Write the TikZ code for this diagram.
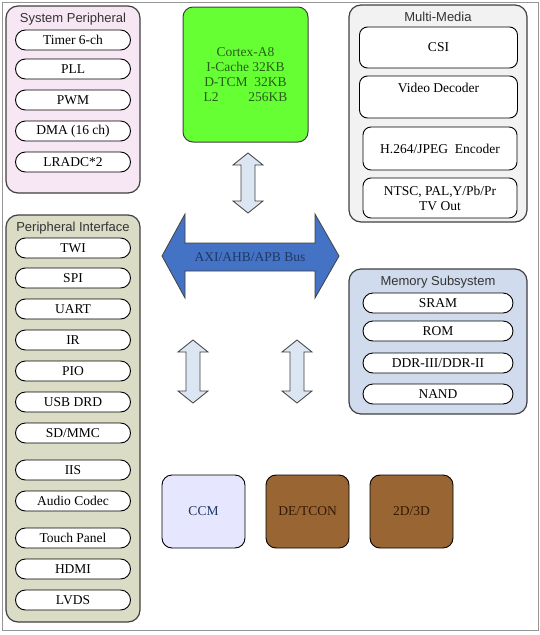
\documentclass[tikz,border=0pt]{standalone}
\usepackage{fontspec}
\setmainfont{Liberation Serif}
\newfontfamily\titlefont{Liberation Sans}
\usetikzlibrary{positioning}
\definecolor{darkline}{RGB}{64,64,64}
\definecolor{framegray}{RGB}{150,150,150}
\definecolor{sysfill}{RGB}{247,230,244}
\definecolor{perifill}{RGB}{218,220,198}
\definecolor{mmfill}{RGB}{242,242,242}
\definecolor{memfill}{RGB}{208,220,238}
\definecolor{cortexfill}{RGB}{102,255,51}
\definecolor{cortextext}{RGB}{40,95,25}
\definecolor{busfill}{RGB}{68,114,196}
\definecolor{bustext}{RGB}{31,56,100}
\definecolor{arrowfill}{RGB}{220,230,242}
\definecolor{ccmfill}{RGB}{230,230,255}
\definecolor{brownfill}{RGB}{153,102,51}
\definecolor{browntext}{RGB}{50,25,5}

\begin{document}
\begin{tikzpicture}[x=1pt, y=-1pt, font=\fontsize{13.5}{15}\selectfont,
  group/.style={draw=darkline, line width=1.2pt, rounded corners=12pt, inner sep=0pt},
  grouptitle/.style={font=\titlefont\fontsize{13}{15}\selectfont, text=black!80, anchor=north, inner sep=1pt},
  pill/.style={draw=black, line width=0.9pt, rounded corners=10pt, minimum width=115pt, minimum height=20pt, inner sep=0pt},
  mmbox/.style={draw=black, line width=0.9pt, rounded corners=8pt, inner sep=0pt},
  blockbox/.style={draw=black, line width=0.9pt, rounded corners=10pt, minimum width=83pt, minimum height=73pt},
  darrow/.style={draw=darkline, fill=arrowfill, line width=0.8pt, line join=miter}]

  \useasboundingbox (0,0) rectangle (540,635);
  \draw [draw=framegray, line width=0.8pt] (2,2) rectangle (538,630);

  % system peripheral
  \node [group, fill=sysfill, minimum width=134pt, minimum height=187pt] (sysperi) at (73,99.5) {};
  \node [grouptitle] at ([yshift=-6pt]sysperi.north) {System Peripheral};
  \foreach \name/\y/\txt in {timer/40/Timer 6-ch, pll/69/PLL, pwm/100/PWM, dma/131/DMA (16 ch), lradc/162/LRADC*2}
    \node [pill, fill=white] (\name) at (73,\y) {\txt};

  % peripheral interface
  \node [group, fill=perifill, minimum width=134pt, minimum height=407pt] (periface) at (73,418.5) {};
  \node [grouptitle] at ([yshift=-6.5pt]periface.north) {Peripheral Interface};
  \foreach \name/\y/\txt in {twi/248/TWI, spi/278/SPI, uart/309/UART, ir/340/IR, pio/371/PIO, usb/402/USB DRD,
      sdmmc/433/{SD/MMC}, iis/470/IIS, codec/501/Audio Codec, touch/538/Touch Panel, hdmi/569/HDMI, lvds/600/LVDS}
    \node [pill, fill=white] (\name) at (73,\y) {\txt};

  % cortex
  \node [draw=darkline, line width=1pt, rounded corners=10pt, fill=cortexfill, minimum width=125pt, minimum height=135pt,
    align=center, text=cortextext] (cortex) at (245.5,74.5)
    {Cortex-A8\\I-Cache 32KB\\D-TCM~~32KB\\L2\hspace{30pt}256KB};

  % multi-media
  \node [group, fill=mmfill, minimum width=178pt, minimum height=217pt] (media) at (438,113.5) {};
  \node [grouptitle] at ([yshift=-6.5pt]media.north) {Multi-Media};
  \node [mmbox, fill=white, minimum width=158pt, minimum height=41pt] (csi) at (438.5,47.5) {CSI};
  \node [mmbox, fill=white, minimum width=158pt, minimum height=42pt] (vdec) at (438.5,97) {};
  \node [anchor=north, inner sep=2pt] at ([yshift=-5pt]vdec.north) {Video Decoder};
  \node [mmbox, fill=white, minimum width=154pt, minimum height=43pt] (enc) at (440,148.5) {H.264/JPEG~~Encoder};
  \node [mmbox, fill=white, minimum width=154pt, minimum height=40pt, align=center] (tvout) at (440,198)
    {NTSC, PAL,Y/Pb/Pr\\TV Out};

  % memory subsystem
  \node [group, fill=memfill, minimum width=178pt, minimum height=145pt] (memory) at (438,341.5) {};
  \node [grouptitle] at ([yshift=-6.5pt]memory.north) {Memory Subsystem};
  \foreach \name/\y/\txt in {sram/303/SRAM, rom/331/ROM, ddr/363/{DDR-III/DDR-II}, nand/394/NAND}
    \node [pill, fill=white, minimum width=150pt] (\name) at (438,\y) {\txt};

  % bus
  \draw [draw=darkline, fill=busfill, line width=0.8pt, line join=miter]
    (162,256) -- (185,214) -- (185,243) -- (315,243) -- (315,214) -- (339,256)
    -- (315,298) -- (315,271) -- (185,271) -- (185,298) -- cycle;
  \node [text=bustext] (bus) at (250,257) {AXI/AHB/APB Bus};

  % double arrows
  \draw [darrow] (248,153) -- ++(15,12) -- ++(-8,0) -- ++(0,36) -- ++(8,0) -- ++(-15,12)
    -- ++(-15,-12) -- ++(8,0) -- ++(0,-36) -- ++(-8,0) -- cycle;
  \draw [darrow] (193,340) -- ++(15,12) -- ++(-8,0) -- ++(0,39) -- ++(8,0) -- ++(-15,12)
    -- ++(-15,-12) -- ++(8,0) -- ++(0,-39) -- ++(-8,0) -- cycle;
  \draw [darrow] (297,340) -- ++(15,12) -- ++(-8,0) -- ++(0,39) -- ++(8,0) -- ++(-15,12)
    -- ++(-15,-12) -- ++(8,0) -- ++(0,-39) -- ++(-8,0) -- cycle;

  % bottom blocks
  \node [blockbox, fill=ccmfill, text=bustext] (ccm) at (203.5,511.5) {CCM};
  \node [blockbox, fill=brownfill, text=browntext] (detcon) at (307.5,511.5) {DE/TCON};
  \node [blockbox, fill=brownfill, text=browntext] (gpu) at (411.5,511.5) {2D/3D};
\end{tikzpicture}
\end{document}
